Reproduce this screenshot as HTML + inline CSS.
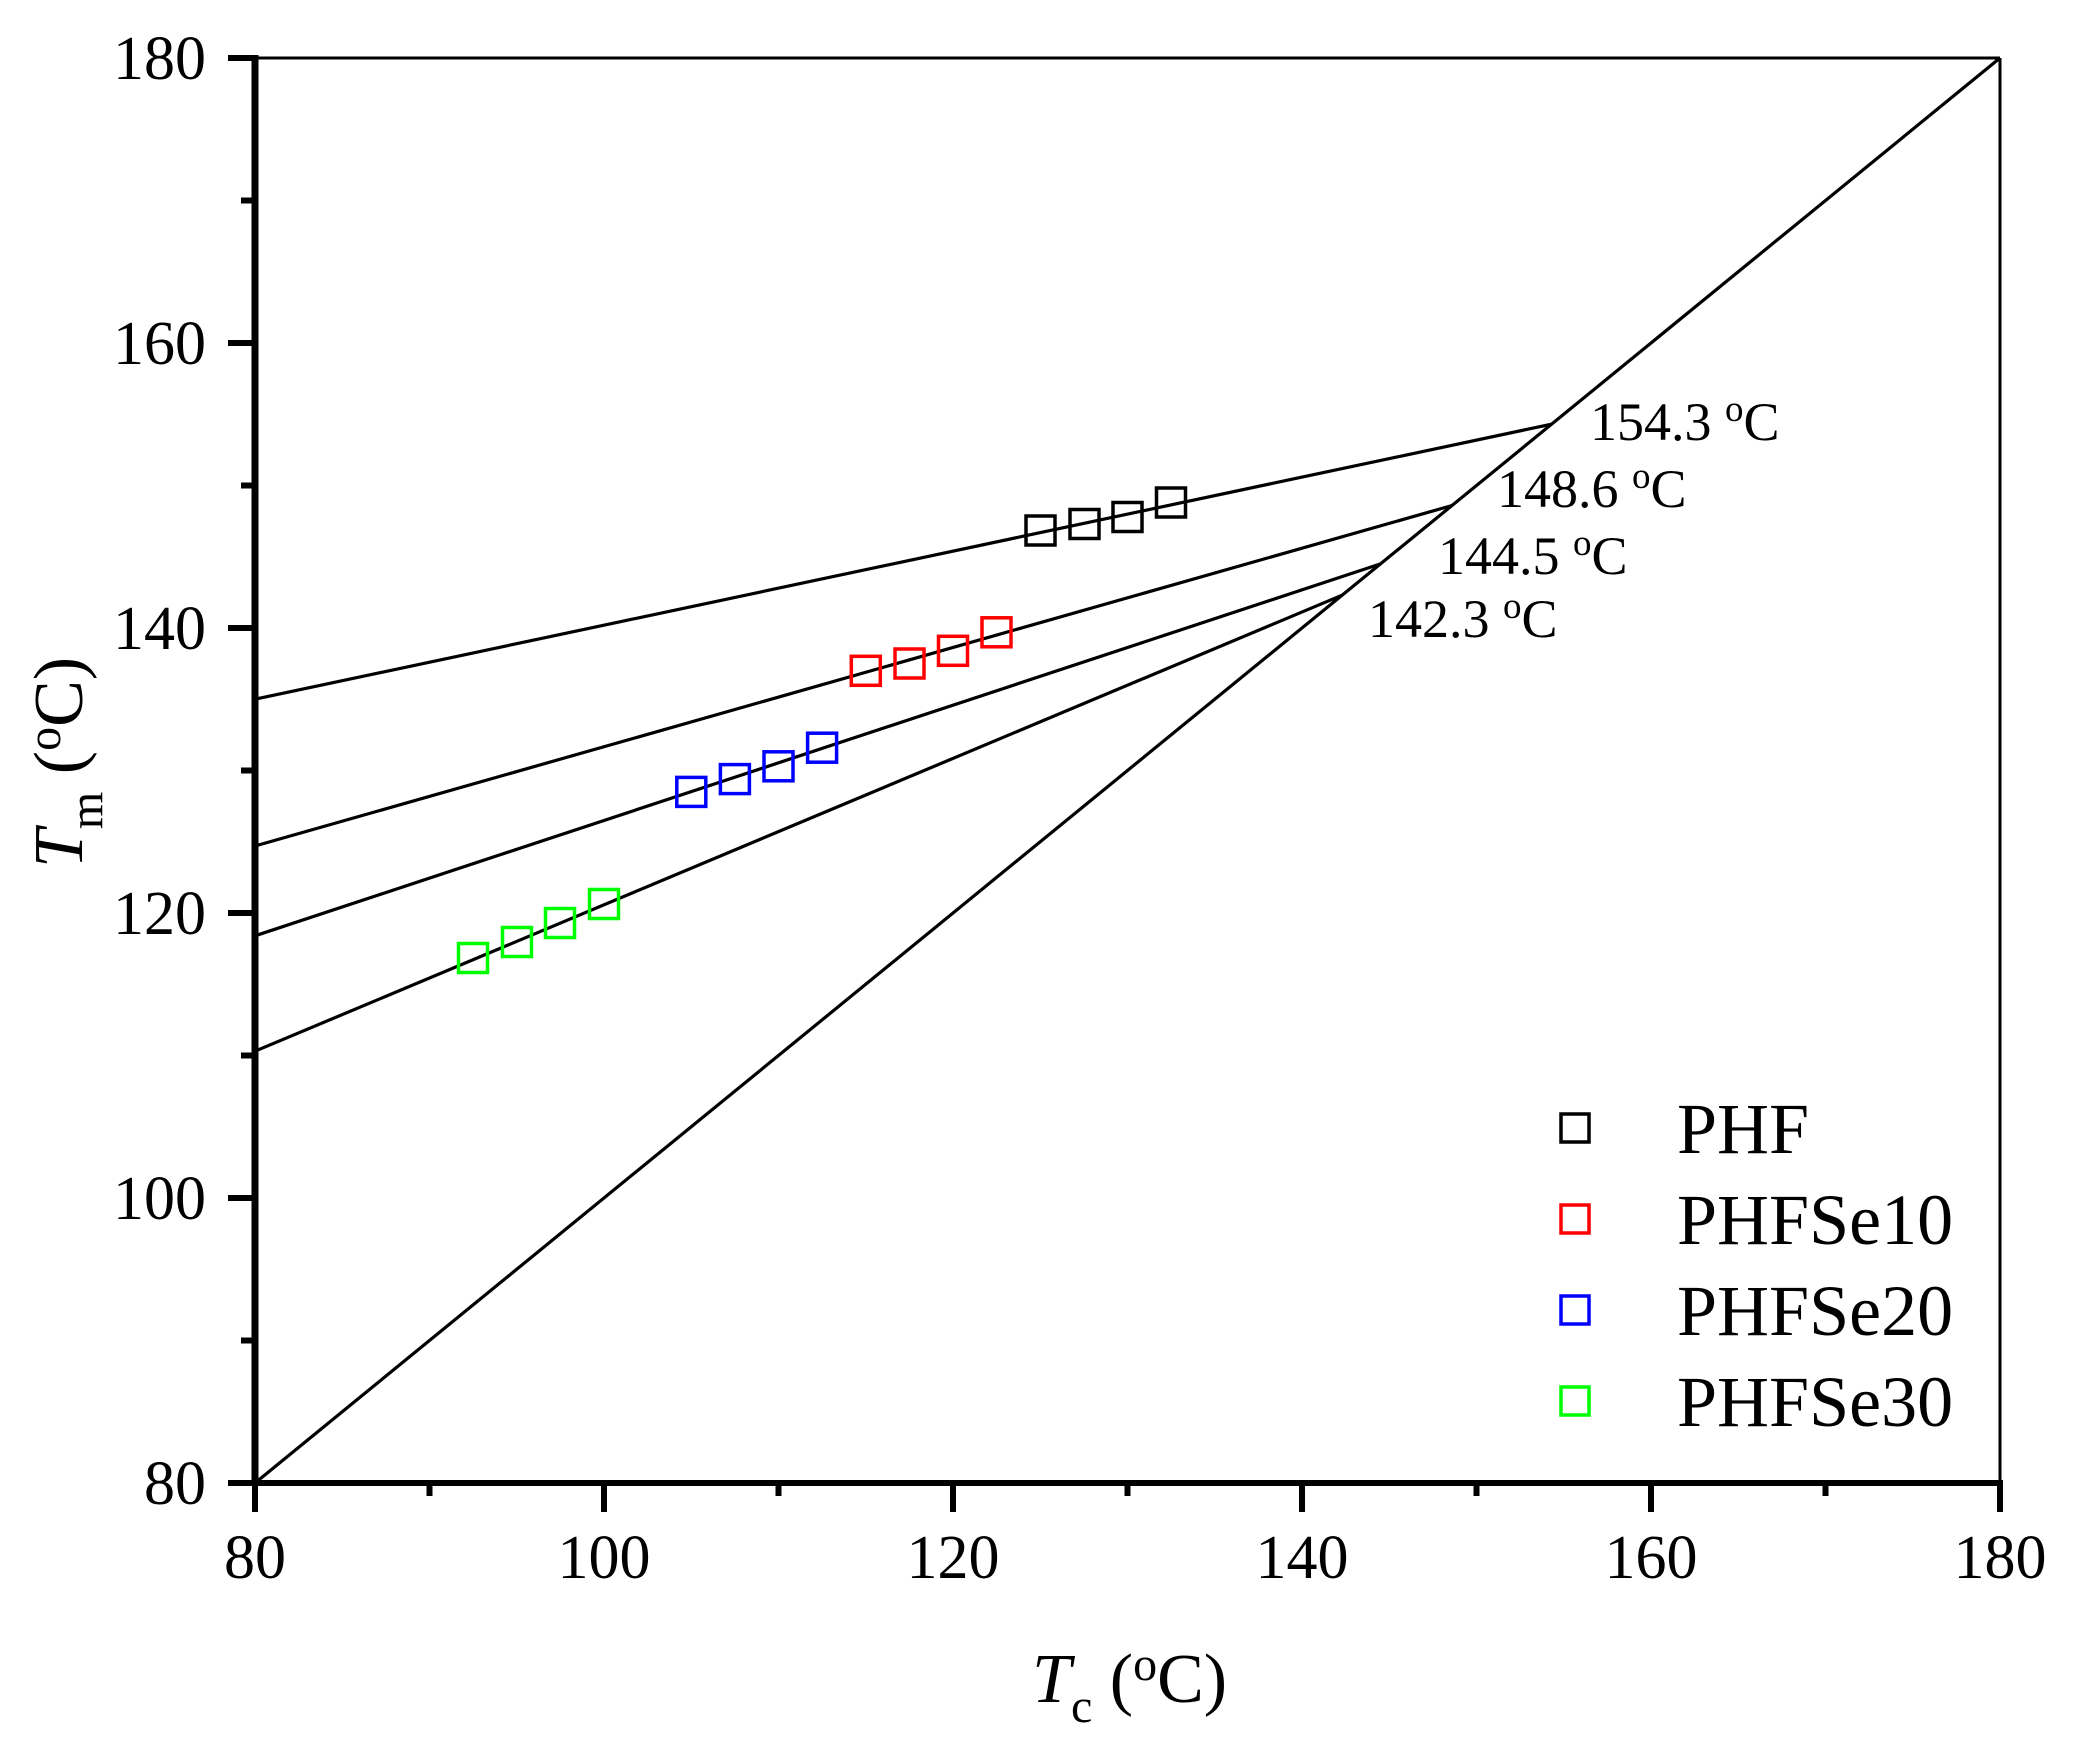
<!DOCTYPE html>
<html><head><meta charset="utf-8"><style>html,body{margin:0;padding:0;background:#fff}svg{display:block}</style></head>
<body>
<svg width="2075" height="1759" viewBox="0 0 2075 1759" xmlns="http://www.w3.org/2000/svg" font-family="'Liberation Serif', serif">
<rect width="2075" height="1759" fill="#fff"/>
<line x1="255" y1="58" x2="2000" y2="58" stroke="#000" stroke-width="3"/>
<line x1="2000" y1="58" x2="2000" y2="1483" stroke="#000" stroke-width="3"/>
<line x1="255" y1="55" x2="255" y2="1486" stroke="#000" stroke-width="7"/>
<line x1="252" y1="1483" x2="2003" y2="1483" stroke="#000" stroke-width="6"/>
<g stroke="#000" stroke-width="6">
<line x1="228" y1="58" x2="255" y2="58"/><line x1="228" y1="343" x2="255" y2="343"/><line x1="228" y1="628" x2="255" y2="628"/><line x1="228" y1="913" x2="255" y2="913"/><line x1="228" y1="1198" x2="255" y2="1198"/><line x1="228" y1="1483" x2="255" y2="1483"/>
<line x1="241" y1="200.5" x2="255" y2="200.5"/><line x1="241" y1="485.5" x2="255" y2="485.5"/><line x1="241" y1="770.5" x2="255" y2="770.5"/><line x1="241" y1="1055.5" x2="255" y2="1055.5"/><line x1="241" y1="1340.5" x2="255" y2="1340.5"/>
<line x1="255" y1="1483" x2="255" y2="1512"/><line x1="604" y1="1483" x2="604" y2="1512"/><line x1="953" y1="1483" x2="953" y2="1512"/><line x1="1302" y1="1483" x2="1302" y2="1512"/><line x1="1651" y1="1483" x2="1651" y2="1512"/><line x1="2000" y1="1483" x2="2000" y2="1512"/>
<line x1="429.5" y1="1483" x2="429.5" y2="1496"/><line x1="778.5" y1="1483" x2="778.5" y2="1496"/><line x1="1127.5" y1="1483" x2="1127.5" y2="1496"/><line x1="1476.5" y1="1483" x2="1476.5" y2="1496"/><line x1="1825.5" y1="1483" x2="1825.5" y2="1496"/>
</g>
<g font-size="62" fill="#000" text-anchor="end">
<text x="206" y="79">180</text><text x="206" y="364">160</text><text x="206" y="649">140</text><text x="206" y="934">120</text><text x="206" y="1219">100</text><text x="206" y="1504">80</text>
</g>
<g font-size="62" fill="#000" text-anchor="middle">
<text x="255" y="1578">80</text><text x="604" y="1578">100</text><text x="953" y="1578">120</text><text x="1302" y="1578">140</text><text x="1651" y="1578">160</text><text x="2000" y="1578">180</text>
</g>
<g stroke="#000" stroke-width="3.2" fill="none">
<line x1="255" y1="1483" x2="2000" y2="58"/>
<line x1="255" y1="699.2" x2="1551.5" y2="424.2"/>
<line x1="255" y1="846" x2="1452.1" y2="505.5"/>
<line x1="255" y1="935.8" x2="1380.5" y2="563.9"/>
<line x1="255" y1="1051.2" x2="1342.1" y2="595.2"/>
</g>
<g fill="none" stroke-width="3.5">
<g stroke="#000">
<rect x="1026" y="516" width="29" height="29"/><rect x="1070" y="509.5" width="29" height="29"/><rect x="1113" y="502.5" width="29" height="29"/><rect x="1156.5" y="488" width="29" height="29"/>
</g>
<g stroke="#ff0000">
<rect x="851.3" y="656.3" width="29" height="29"/><rect x="895" y="649" width="29" height="29"/><rect x="938.5" y="636.3" width="29" height="29"/><rect x="982" y="617.8" width="29" height="29"/>
</g>
<g stroke="#0000ff">
<rect x="676.8" y="777.4" width="29" height="29"/><rect x="720.4" y="764.6" width="29" height="29"/><rect x="764" y="751.8" width="29" height="29"/><rect x="807.6" y="733.2" width="29" height="29"/>
</g>
<g stroke="#00ff00">
<rect x="458.5" y="943.5" width="29" height="29"/><rect x="502.5" y="927.5" width="29" height="29"/><rect x="545.5" y="908.5" width="29" height="29"/><rect x="589.5" y="889.5" width="29" height="29"/>
</g>
</g>
<g font-size="54" fill="#000">
<text x="1590" y="440">154.3 <tspan dy="-19" font-size="37">o</tspan><tspan dy="19">C</tspan></text>
<text x="1497" y="507">148.6 <tspan dy="-19" font-size="37">o</tspan><tspan dy="19">C</tspan></text>
<text x="1438" y="574">144.5 <tspan dy="-19" font-size="37">o</tspan><tspan dy="19">C</tspan></text>
<text x="1368" y="637">142.3 <tspan dy="-19" font-size="37">o</tspan><tspan dy="19">C</tspan></text>
</g>
<g fill="none" stroke-width="3.5">
<rect x="1561" y="1114" width="28" height="28" stroke="#000"/>
<rect x="1561" y="1205" width="28" height="28" stroke="#ff0000"/>
<rect x="1561" y="1296" width="28" height="28" stroke="#0000ff"/>
<rect x="1561" y="1387" width="28" height="28" stroke="#00ff00"/>
</g>
<g font-size="72" fill="#000">
<text x="1677" y="1153">PHF</text>
<text x="1677" y="1244">PHFSe10</text>
<text x="1677" y="1335">PHFSe20</text>
<text x="1677" y="1426">PHFSe30</text>
</g>
<text x="1032" y="1702" font-size="70" fill="#000"><tspan font-style="italic">T</tspan><tspan font-size="48" dy="20">c</tspan><tspan dy="-20"> (</tspan><tspan font-size="48" dy="-22">o</tspan><tspan dy="22">C)</tspan></text>
<text transform="translate(82,868) rotate(-90)" font-size="70" fill="#000"><tspan font-style="italic">T</tspan><tspan font-size="48" dy="20">m</tspan><tspan dy="-20"> (</tspan><tspan font-size="48" dy="-22">o</tspan><tspan dy="22">C)</tspan></text>
</svg>
</body></html>
